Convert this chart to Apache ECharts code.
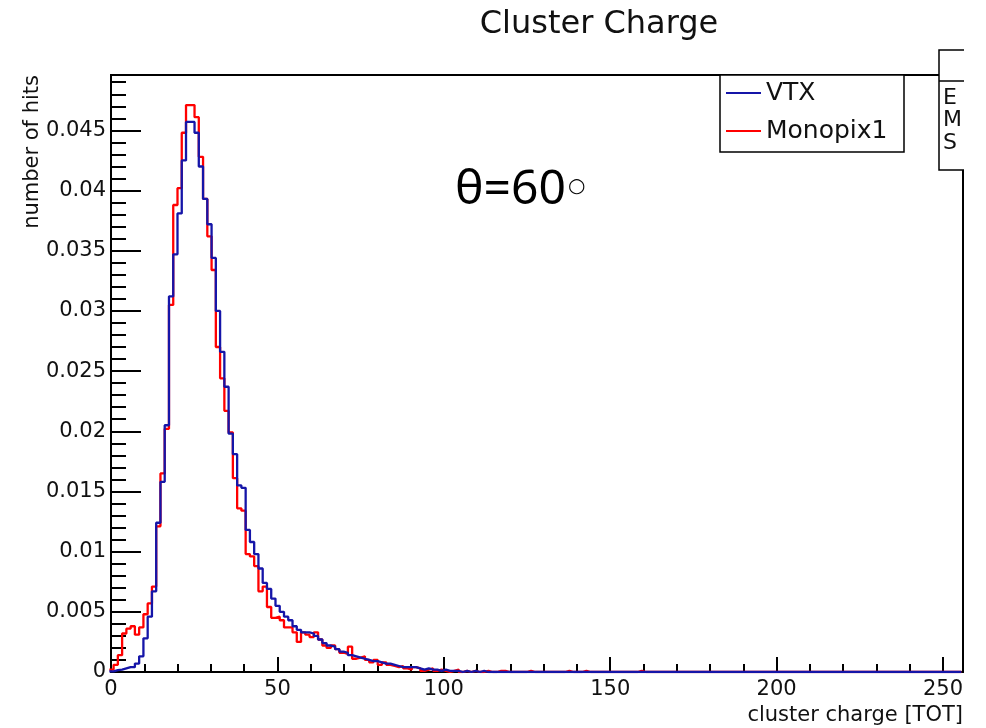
<!DOCTYPE html>
<html><head><meta charset="utf-8">
<script src="https://cdn.jsdelivr.net/npm/echarts@6/dist/echarts.min.js"></script>
<style>html,body{margin:0;padding:0;background:#fff}#c{width:986px;height:728px}</style>
</head><body><div id="c"></div>
<script>
// Histogram definition (ROOT-style TH1: 200 bins from -0.5 to 255.5)
const binMin = -0.5;
const binWidth = 1.28;
const nBins = 200;

// Bin contents (bins beyond the listed ones are empty)
const vtx = [
  0.00005,0.00015,0.0002,0.0003,0.0004,0.0004,0.0007,0.0013,0.0028,0.0046,
  0.0067,0.0124,0.0158,0.0205,0.0312,0.0347,0.0381,0.0425,0.0457,0.0457,
  0.0448,0.0420,0.0393,0.0372,0.0344,0.0300,0.0266,0.0237,0.0198,0.0181,
  0.0155,0.0153,0.0118,0.0108,0.0098,0.0086,0.0074,0.0069,0.0061,0.0055,
  0.0050,0.0046,0.0043,0.0038,0.0035,0.0033,0.0033,0.0032,0.0030,0.0027,
  0.0024,0.0022,0.0021,0.0019,0.0017,0.0016,0.0014,0.0013,0.0012,0.0011,
  0.0010,0.0009,0.0009,0.0008,0.0007,0.0007,0.0006,0.0005,0.0004,0.0004,
  0.0004,0.0004,0.0003,0.0002,0.0003,0.0002,0.0002,0.0001,0.0002,0.0001,
  0.0001,0.0001,0.0000,0.0001,0.0000,0.0001,0.0000,0.0001,0.0000,0.0000
];
const monopix1 = [
  0.0002,0.0006,0.0014,0.0032,0.0036,0.0038,0.0031,0.0037,0.0048,0.0057,
  0.0071,0.0121,0.0165,0.0202,0.0305,0.0388,0.0402,0.0448,0.0471,0.0471,
  0.0461,0.0428,0.0393,0.0362,0.0334,0.0270,0.0244,0.0217,0.0199,0.0161,
  0.0136,0.0134,0.0098,0.0096,0.0088,0.0067,0.0071,0.0054,0.0045,0.0046,
  0.0043,0.0037,0.0037,0.0033,0.0025,0.0033,0.0031,0.0029,0.0033,0.0027,
  0.0022,0.0020,0.0022,0.0019,0.0016,0.0015,0.0021,0.0011,0.0012,0.0013,
  0.0010,0.0008,0.0010,0.0006,0.0008,0.0006,0.0005,0.0004,0.0005,0.0003,
  0.0002,0.0004,0.0003,0.0001,0.0002,0.0003,0.0001,0.0002,0.0001,0.0000,
  0.0001,0.0002,0.0000,0.0001,0.0000,0.0001,0.0000,0.0000,0.0001,0.0000,
  0.0000,0.0001,0.0001,0.0000,0.0000,0.0000,0.0000,0.0000,0.0001,0.0000,
  0.0000,0.0000,0.0000,0.0000,0.0000,0.0000,0.0000,0.0001,0.0000,0.0000,
  0.0000,0.0001,0.0000,0.0000,0.0000,0.0000,0.0000,0.0000,0.0000,0.0000,
  0.0000,0.0000,0.0000,0.0000,0.0001,0.0000
];

const seriesNames = ['VTX', 'Monopix1'];
const seriesColors = ['#1515a8', '#ff0000'];
const titleText = 'Cluster Charge';
const xTitle = 'cluster charge [TOT]';
const yTitle = 'number of hits';
const xRange = [0, 256];
const xTickInterval = 50;
const yRange = [0, 0.0496];
const yTickInterval = 0.005;
const statsLetters = ['E', 'M', 'S'];

function toSteps(vals) {
  const d = [];
  for (let k = 0; k < nBins; k++) {
    d.push([binMin + k * binWidth, k < vals.length ? vals[k] : 0]);
  }
  d.push([binMin + nBins * binWidth, 0]);
  return d;
}

const FONT = 'DejaVu Sans';
const TXT = '#111';
const chart = echarts.init(document.getElementById('c'), null, {renderer: 'canvas'});

chart.setOption({
  animation: false,
  backgroundColor: '#fff',
  grid: {left: 111, right: 23, top: 75, bottom: 56, show: true, borderColor: '#000', borderWidth: 2, backgroundColor: 'transparent'},
  xAxis: {
    type: 'value', min: xRange[0], max: xRange[1], interval: xTickInterval,
    axisLine: {show: true, onZero: false, lineStyle: {color: '#000', width: 2}},
    axisTick: {show: true, inside: true, length: 15, lineStyle: {color: '#000', width: 2}},
    minorTick: {show: true, splitNumber: 5, length: 8, lineStyle: {color: '#000', width: 2}},
    axisLabel: {show: true, margin: 7, color: TXT, fontFamily: FONT, fontSize: 21, showMaxLabel: false},
    splitLine: {show: false}, minorSplitLine: {show: false}
  },
  yAxis: {
    type: 'value', min: yRange[0], max: yRange[1], interval: yTickInterval,
    axisLine: {show: true, onZero: false, lineStyle: {color: '#000', width: 2}},
    axisTick: {show: true, inside: true, length: 30, lineStyle: {color: '#000', width: 2}},
    minorTick: {show: true, splitNumber: 5, length: 15, lineStyle: {color: '#000', width: 2}},
    axisLabel: {show: true, margin: 5, color: TXT, fontFamily: FONT, fontSize: 21, showMaxLabel: false,
      formatter: v => v === 0 ? '0' : String(+v.toFixed(3))},
    splitLine: {show: false}, minorSplitLine: {show: false}
  },
  series: [
    {name: seriesNames[1], type: 'line', step: 'end', symbol: 'none', z: 2,
     lineStyle: {color: seriesColors[1], width: 2.3}, data: toSteps(monopix1)},
    {name: seriesNames[0], type: 'line', step: 'end', symbol: 'none', z: 3,
     lineStyle: {color: seriesColors[0], width: 2.3}, data: toSteps(vtx)}
  ],
  graphic: [
    {type: 'text', x: 599, y: 25, style: {text: titleText, font: '32px "DejaVu Sans"', fill: TXT, align: 'center', verticalAlign: 'middle', textAlign: 'center', textVerticalAlign: 'middle'}},
    {type: 'text', x: 33, y: 75, rotation: Math.PI / 2, style: {text: yTitle, font: '21px "DejaVu Sans"', fill: TXT, align: 'right', verticalAlign: 'middle', textAlign: 'right', textVerticalAlign: 'middle'}},
    {type: 'text', x: 963, y: 716, style: {text: xTitle, font: '21px "DejaVu Sans"', fill: TXT, align: 'right', verticalAlign: 'middle', textAlign: 'right', textVerticalAlign: 'middle'}},
    // legend box
    {type: 'rect', z: 10, shape: {x: 720, y: 75, width: 184, height: 77}, style: {fill: '#fff', stroke: '#000', lineWidth: 1.5}},
    {type: 'line', z: 11, shape: {x1: 726, y1: 93, x2: 761, y2: 93}, style: {stroke: seriesColors[0], lineWidth: 2}},
    {type: 'text', z: 11, x: 766, y: 93, style: {text: seriesNames[0], font: '25px "DejaVu Sans"', fill: TXT, align: 'left', verticalAlign: 'middle', textAlign: 'left', textVerticalAlign: 'middle'}},
    {type: 'line', z: 11, shape: {x1: 726, y1: 131, x2: 761, y2: 131}, style: {stroke: seriesColors[1], lineWidth: 2}},
    {type: 'text', z: 11, x: 766, y: 131, style: {text: seriesNames[1], font: '25px "DejaVu Sans"', fill: TXT, align: 'left', verticalAlign: 'middle', textAlign: 'left', textVerticalAlign: 'middle'}},
    // stats box (cut at the right edge)
    {type: 'rect', z: 10, shape: {x: 939, y: 50, width: 25, height: 120}, style: {fill: '#fff', stroke: null}},
    {type: 'polyline', z: 11, shape: {points: [[964, 50], [939, 50], [939, 170], [964, 170]]}, style: {stroke: '#000', lineWidth: 1.5, fill: null}},
    {type: 'line', z: 11, shape: {x1: 939, y1: 81, x2: 964, y2: 81}, style: {stroke: '#000', lineWidth: 1.5}},
    {type: 'text', z: 11, x: 943, y: 98, style: {text: statsLetters[0], font: '22px "DejaVu Sans"', fill: TXT, align: 'left', verticalAlign: 'middle', textAlign: 'left', textVerticalAlign: 'middle'}},
    {type: 'text', z: 11, x: 943, y: 120, style: {text: statsLetters[1], font: '22px "DejaVu Sans"', fill: TXT, align: 'left', verticalAlign: 'middle', textAlign: 'left', textVerticalAlign: 'middle'}},
    {type: 'text', z: 11, x: 943, y: 143, style: {text: statsLetters[2], font: '22px "DejaVu Sans"', fill: TXT, align: 'left', verticalAlign: 'middle', textAlign: 'left', textVerticalAlign: 'middle'}},
    // angle annotation
    {type: 'text', z: 11, x: 455, y: 190, style: {text: 'θ=60', font: '48px "Noto Sans"', fill: '#000', align: 'left', verticalAlign: 'middle', textAlign: 'left', textVerticalAlign: 'middle'}},
    {type: 'text', z: 11, x: 568, y: 187, style: {text: '○', font: '20px "DejaVu Sans"', fill: '#000', align: 'left', verticalAlign: 'middle', textAlign: 'left', textVerticalAlign: 'middle'}}
  ]
});
</script>
</body></html>
